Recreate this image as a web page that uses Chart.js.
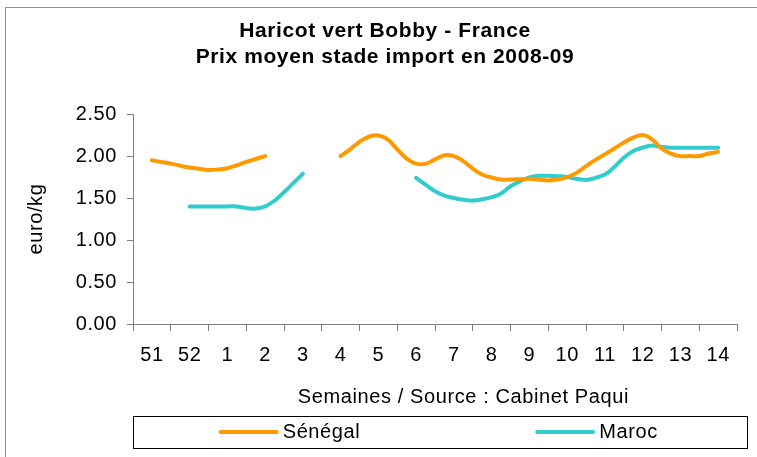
<!DOCTYPE html>
<html>
<head>
<meta charset="utf-8">
<script src="https://cdn.jsdelivr.net/npm/chart.js@4.4.1/dist/chart.umd.min.js"></script>
<style>
  html, body { margin: 0; padding: 0; background: #fff; overflow: hidden; }
  #wrap { position: relative; width: 757px; height: 457px; }
  #frame { position: absolute; left: 5px; top: 7px; width: 800px; height: 500px;
           border-left: 1px solid #a77fa7; border-top: 1px solid #a77fa7; pointer-events: none; }
  canvas { position: absolute; left: 0; top: 0; }
</style>
</head>
<body>
<div id="wrap">
  <canvas id="c" width="757" height="457"></canvas>
  <div id="frame"></div>
</div>
<script>
// ---- Data ----
const titleLines = ['Haricot vert Bobby - France', 'Prix moyen stade import en 2008-09'];
const weeks = ['51', '52', '1', '2', '3', '4', '5', '6', '7', '8', '9', '10', '11', '12', '13', '14'];
const samplesPerWeek = 4; // readings every quarter week
const senegal = [
  1.95, 1.93, 1.91, 1.885, 1.865, 1.85, 1.835, 1.84, 1.855, 1.89, 1.93, 1.965,
  2.00, null, null, null, null, null, null, null,
  2.00, 2.08, 2.17, 2.23, 2.245, 2.20, 2.08, 1.97,
  1.91, 1.91, 1.96, 2.01, 2.00, 1.94, 1.85, 1.78,
  1.745, 1.72, 1.72, 1.725, 1.73, 1.72, 1.71, 1.72,
  1.75, 1.80, 1.88, 1.955, 2.02, 2.09, 2.16, 2.22,
  2.25, 2.20, 2.09, 2.03, 2.00, 2.00, 2.00, 2.03, 2.05
];
const maroc = [
  null, null, null, null, 1.40, 1.40, 1.40, 1.40, 1.40, 1.40, 1.38, 1.375,
  1.40, 1.47, 1.57, 1.68, 1.79,
  null, null, null, null, null, null, null, null, null, null, null,
  1.74, 1.66, 1.58, 1.53, 1.50, 1.48, 1.47, 1.485,
  1.51, 1.555, 1.64, 1.70, 1.745, 1.765, 1.765, 1.76,
  1.75, 1.73, 1.715, 1.74, 1.78, 1.87, 1.98, 2.06,
  2.10, 2.125, 2.11, 2.10, 2.10, 2.10, 2.10, 2.10, 2.10
];
const seriesNames = ['Sénégal', 'Maroc'];
const seriesColors = ['#ff9900', '#33cccc'];
const yTitle = 'euro/kg';
const xTitle = 'Semaines / Source : Cabinet Paqui';

const FONT = "'Liberation Sans', Arial, sans-serif";
const SPACING = '0.6px';
Chart.defaults.font.family = FONT;
Chart.defaults.color = '#000';

function toPoints(arr) {
  return arr.map((v, i) => ({ x: i / samplesPerWeek, y: v }));
}

const letterSpacing = {
  id: 'letterSpacing',
  beforeUpdate(chart) { chart.ctx.letterSpacing = SPACING; },
  beforeLayout(chart) { chart.ctx.letterSpacing = SPACING; },
  beforeDraw(chart) { chart.ctx.letterSpacing = SPACING; }
};

const extraText = {
  id: 'extraText',
  afterDraw(chart) {
    const ctx = chart.ctx;
    const area = chart.chartArea;
    const xs = chart.scales.x;
    ctx.save();
    ctx.letterSpacing = SPACING;
    // x axis title
    ctx.font = '20px ' + FONT;
    ctx.fillStyle = '#000';
    ctx.textAlign = 'center';
    ctx.textBaseline = 'middle';
    ctx.fillText(xTitle, area.left + (area.right - area.left) * 0.547, xs.bottom + 18);
    // legend box
    const boxL = area.left, boxR = area.right + 10;
    const boxT = xs.bottom + 37, boxH = 32;
    ctx.strokeStyle = '#000';
    ctx.lineWidth = 1;
    ctx.strokeRect(Math.round(boxL) + 0.5, Math.round(boxT) + 0.5, Math.round(boxR - boxL), boxH);
    const colW = (boxR - boxL) / chart.data.datasets.length;
    const midY = boxT + boxH / 2;
    chart.data.datasets.forEach((ds, i) => {
      const tw = ctx.measureText(ds.label).width;
      const lineLen = 56, gap = 6;
      const itemW = lineLen + gap + tw;
      const cx = boxL + colW * (i + 0.5) + 4;
      const x0 = cx - itemW / 2;
      ctx.strokeStyle = ds.borderColor;
      ctx.lineWidth = 4;
      ctx.lineCap = 'round';
      ctx.beginPath();
      ctx.moveTo(x0, midY);
      ctx.lineTo(x0 + lineLen, midY);
      ctx.stroke();
      ctx.textAlign = 'left';
      ctx.fillStyle = '#000';
      ctx.fillText(ds.label, x0 + lineLen + gap, midY);
    });
    ctx.restore();
  }
};

new Chart(document.getElementById('c'), {
  type: 'line',
  data: {
    datasets: [
      { label: seriesNames[0], data: toPoints(senegal), borderColor: seriesColors[0], backgroundColor: seriesColors[0],
        borderWidth: 4, pointRadius: 0, tension: 0.4, spanGaps: false, xAxisID: 'xv', yAxisID: 'y', borderCapStyle: 'round' },
      { label: seriesNames[1], data: toPoints(maroc), borderColor: seriesColors[1], backgroundColor: seriesColors[1],
        borderWidth: 4, pointRadius: 0, tension: 0.4, spanGaps: false, xAxisID: 'xv', yAxisID: 'y', borderCapStyle: 'round' }
    ]
  },
  options: {
    responsive: false,
    animation: false,
    layout: { padding: { left: 33, right: 20, top: 8, bottom: 78 } },
    plugins: {
      legend: { display: false },
      tooltip: { enabled: false },
      title: {
        display: true,
        text: titleLines,
        font: { size: 21, weight: 'bold', lineHeight: 1.24 },
        color: '#000',
        padding: { top: 10, bottom: 44 }
      }
    },
    scales: {
      x: {
        type: 'category',
        labels: weeks,
        position: 'bottom',
        offset: true,
        grid: { offset: true, drawOnChartArea: false, drawTicks: true, tickLength: 7, color: '#808080' },
        border: { color: '#808080', width: 1 },
        ticks: { font: { size: 20 }, color: '#000', padding: 12, maxRotation: 0, autoSkip: false }
      },
      xv: {
        type: 'linear',
        axis: 'x',
        position: 'bottom',
        display: false,
        min: -0.5,
        max: weeks.length - 0.5
      },
      y: {
        min: 0,
        max: 2.5,
        grid: { drawOnChartArea: false, tickLength: 6, color: '#808080' },
        border: { color: '#808080', width: 1 },
        ticks: { stepSize: 0.5, font: { size: 20 }, color: '#000', padding: 10,
                 callback: (v) => Number(v).toFixed(2) },
        title: { display: true, text: yTitle, font: { size: 20 }, color: '#000', padding: { top: -9, bottom: 0 } },
        afterFit: (scale) => { scale.width = 100; }
      }
    }
  },
  plugins: [letterSpacing, extraText]
});
</script>
</body>
</html>
